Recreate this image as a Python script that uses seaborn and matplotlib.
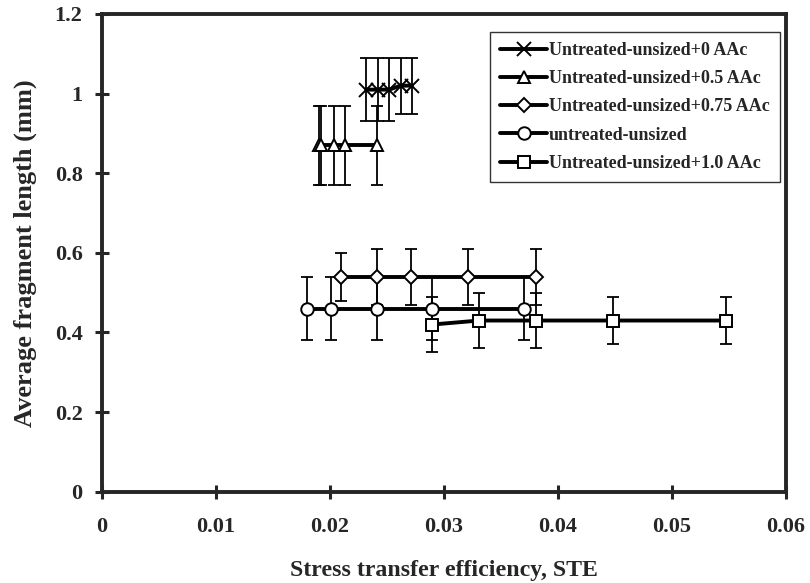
import matplotlib
matplotlib.use("Agg")
import matplotlib.pyplot as plt
import numpy as np
import pandas as pd
import seaborn as sns

# series (x = STE, y = fragment length in mm, e = error bar half-length)
aac0_x = [0.0232, 0.0242, 0.0252, 0.0262, 0.0272]
aac0_y = [1.01, 1.01, 1.01, 1.02, 1.02]
aac0_e = [0.08, 0.08, 0.08, 0.07, 0.07]

aac05_x = [0.0190, 0.0192, 0.0204, 0.0213, 0.0241]
aac05_y = [0.87, 0.87, 0.87, 0.87, 0.87]
aac05_e = [0.10, 0.10, 0.10, 0.10, 0.10]

aac075_x = [0.0210, 0.0241, 0.0271, 0.0321, 0.0381]
aac075_y = [0.54, 0.54, 0.54, 0.54, 0.54]
aac075_e = [0.06, 0.07, 0.07, 0.07, 0.07]

plain_x = [0.0180, 0.0201, 0.0241, 0.0290, 0.0370]
plain_y = [0.46, 0.46, 0.46, 0.46, 0.46]
plain_e = [0.08, 0.08, 0.08, 0.08, 0.08]

aac10_x = [0.0290, 0.0331, 0.0381, 0.0448, 0.0548]
aac10_y = [0.42, 0.43, 0.43, 0.43, 0.43]
aac10_e = [0.07, 0.07, 0.07, 0.06, 0.06]

series = [
	("Untreated-unsized+0 AAc", aac0_x, aac0_y, aac0_e, "x"),
	("Untreated-unsized+0.5 AAc", aac05_x, aac05_y, aac05_e, "^"),
	("Untreated-unsized+0.75 AAc", aac075_x, aac075_y, aac075_e, "D"),
	("untreated-unsized", plain_x, plain_y, plain_e, "o"),
	("Untreated-unsized+1.0 AAc", aac10_x, aac10_y, aac10_e, "s"),
]

sns.set_style("ticks")
plt.rcParams["font.family"] = ["Liberation Serif", "DejaVu Serif"]
plt.rcParams["font.weight"] = "bold"

fig = plt.figure(figsize=(8.1, 5.83), dpi=100)
ax = fig.add_axes([0.126, 0.1566, 0.844, 0.8194])

for name, xs, ys, es, mk in series:
	ax.errorbar(xs, ys, yerr=es, fmt="none", ecolor="black", elinewidth=1.3,
				capsize=4.5, capthick=1.3, zorder=2)
	df = pd.DataFrame({"x": xs, "y": ys})
	ms = 7 if mk == "D" else 9
	if mk == "x":
		ms = 10
	sns.lineplot(data=df, x="x", y="y", ax=ax, color="black", linewidth=2.8,
				 marker=mk, markersize=ms, markerfacecolor="white",
				 markeredgecolor="black", markeredgewidth=1.4, label=name, zorder=3)

ax.set_xlim(0, 0.06)
ax.set_ylim(0, 1.2)
ax.set_xticks(np.arange(0, 0.061, 0.01))
ax.set_xticklabels(["0", "0.01", "0.02", "0.03", "0.04", "0.05", "0.06"])
ax.set_yticks(np.arange(0, 1.21, 0.2))
ax.set_yticklabels(["0", "0.2", "0.4", "0.6", "0.8", "1", "1.2"])
ax.tick_params(axis="both", direction="inout", length=10, width=2.2, labelsize=16)
ax.tick_params(axis="x", pad=13)
ax.tick_params(axis="y", pad=9)
for s in ax.spines.values():
	s.set_linewidth(2.8)
	s.set_visible(True)

ax.set_xlabel("Stress transfer efficiency, STE", fontsize=17.2, fontweight="bold", labelpad=17)
ax.set_ylabel("Average fragment length (mm)", fontsize=19, fontweight="bold", labelpad=13)

leg = ax.legend(loc="upper right", bbox_to_anchor=(0.991, 0.962), borderaxespad=0,
				fontsize=13, frameon=True, fancybox=False, edgecolor="black",
				handlelength=2.6, handletextpad=0.1, labelspacing=0.62, borderpad=0.55)
leg.get_frame().set_linewidth(1.0)
for t in leg.get_texts():
	t.set_fontweight("bold")

fig.savefig("out.png", dpi=100)
